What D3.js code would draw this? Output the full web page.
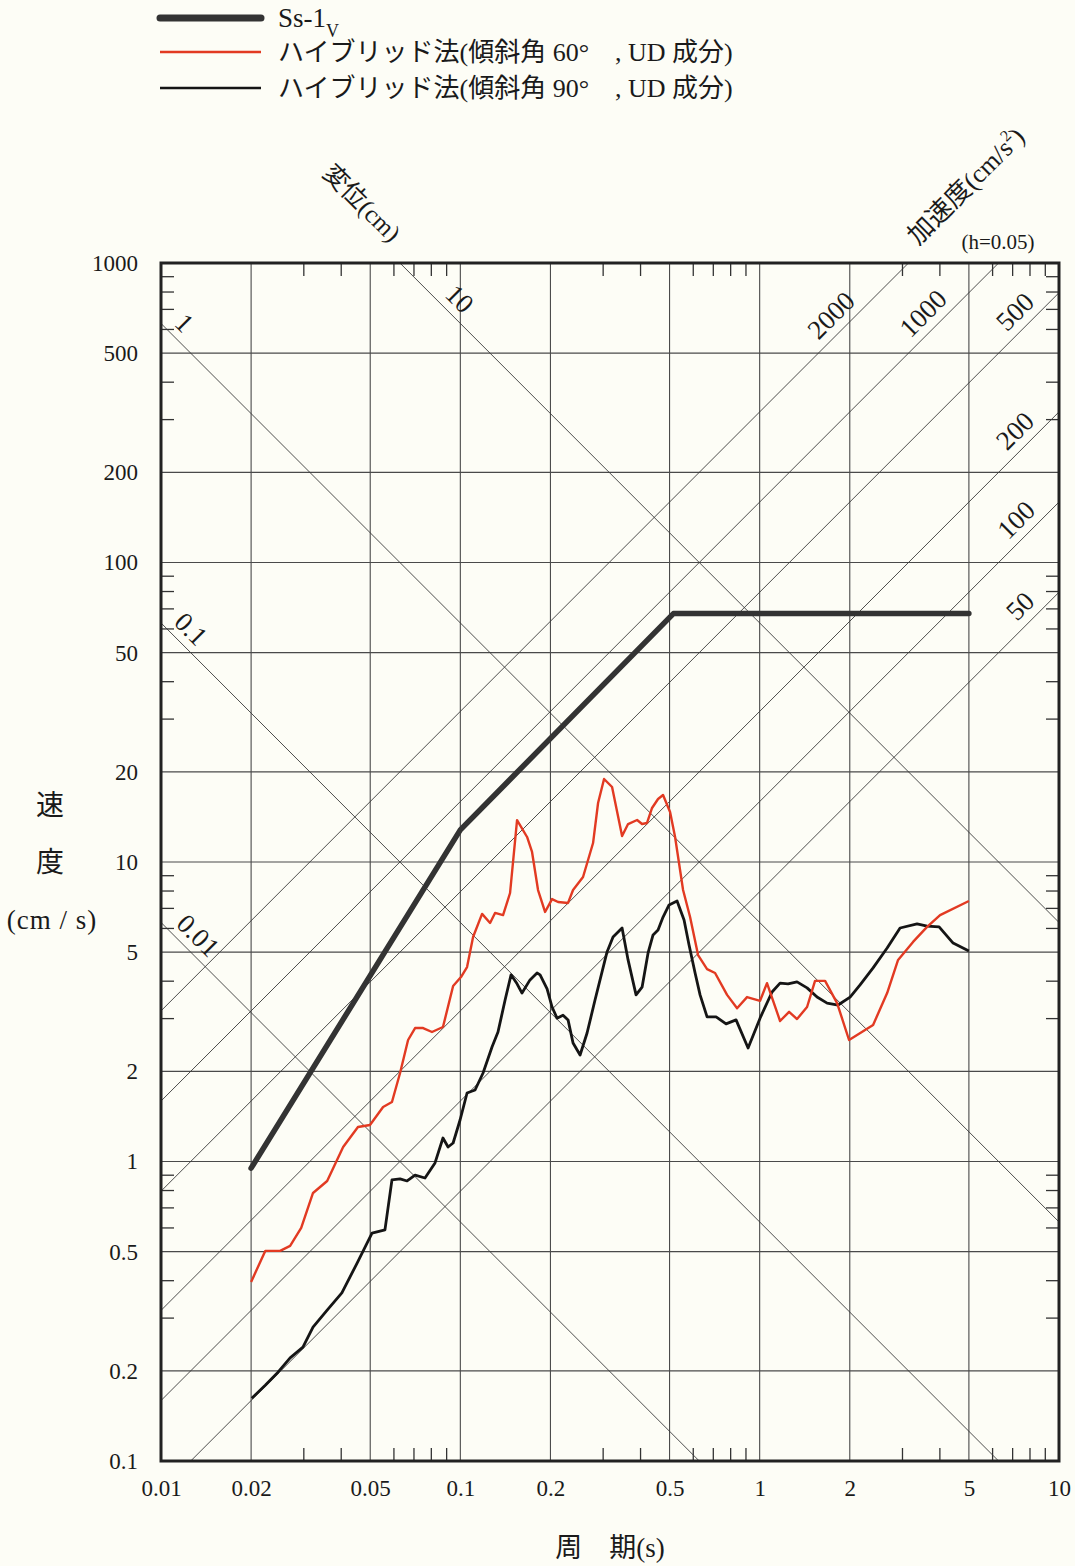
<!DOCTYPE html>
<html>
<head>
<meta charset="utf-8">
<script src="https://cdn.jsdelivr.net/npm/d3@7"></script>
<style>
  html, body { margin: 0; padding: 0; background: #fdfdf6; }
  svg { display: block; }
  text { font-family: "Liberation Serif", "Noto Sans CJK JP", serif; fill: #1a1a1a; }
  .pre { white-space: pre; }
</style>
</head>
<body>
<svg id="chart" width="1075" height="1566"></svg>
<script>
// ---------------- data ----------------
const xTickValues = [0.01, 0.02, 0.05, 0.1, 0.2, 0.5, 1, 2, 5, 10];
const xTickLabels = ["0.01", "0.02", "0.05", "0.1", "0.2", "0.5", "1", "2", "5", "10"];
const yTickValues = [0.1, 0.2, 0.5, 1, 2, 5, 10, 20, 50, 100, 200, 500, 1000];
const yTickLabels = ["0.1", "0.2", "0.5", "1", "2", "5", "10", "20", "50", "100", "200", "500", "1000"];
const xGridValues = [0.02, 0.05, 0.1, 0.2, 0.5, 1, 2, 5];
const yGridValues = [0.2, 0.5, 1, 2, 5, 10, 20, 50, 100, 200, 500];
const minorMultipliers = [3, 4, 6, 7, 8, 9];

const dispLines = [0.01, 0.1, 1, 10];          // displacement (cm)
const dispLabels = ["0.01", "0.1", "1", "10"];
const accLines = [50, 100, 200, 500, 1000, 2000]; // acceleration (cm/s^2)
const accLabels = ["50", "100", "200", "500", "1000", "2000"];

// Ss-1V design spectrum
const ssPeriods = [0.02, 0.1, 0.515, 5];
const ssVelocity = [0.95, 12.8, 67.5, 67.5];

// Hybrid method, dip 60deg, UD
const redPeriods = [0.02, 0.0223, 0.025, 0.027, 0.0294, 0.0322, 0.0359, 0.0406, 0.0455, 0.0499,
  0.0552, 0.0591, 0.0629, 0.0669, 0.0706, 0.0751, 0.0804, 0.0875, 0.0946, 0.1005,
  0.1053, 0.1103, 0.1182, 0.1257, 0.1306, 0.1389, 0.1466, 0.1547, 0.1671, 0.1736,
  0.1818, 0.1919, 0.2025, 0.2121, 0.229, 0.238, 0.257, 0.2776, 0.2885, 0.3021,
  0.3213, 0.347, 0.3634, 0.3895, 0.4047, 0.4205, 0.437, 0.4576, 0.4756, 0.502,
  0.5217, 0.5548, 0.5855, 0.6226, 0.6673, 0.7096, 0.7783, 0.8405, 0.9075, 1.003,
  1.058, 1.17, 1.254, 1.333, 1.44, 1.531, 1.654, 1.814, 1.989, 2.393,
  2.666, 2.9, 3.254, 3.625, 4.006, 5.0];
const redVelocity = [0.396, 0.503, 0.503, 0.523, 0.6, 0.785, 0.861, 1.118, 1.304, 1.324,
  1.521, 1.58, 1.975, 2.545, 2.79, 2.79, 2.706, 2.812, 3.855, 4.13,
  4.46, 5.62, 6.71, 6.26, 6.76, 6.65, 7.88, 13.8, 12.12, 10.8,
  8.06, 6.81, 7.52, 7.35, 7.3, 8.06, 8.91, 11.57, 15.74, 18.93,
  17.8, 12.21, 13.39, 13.81, 13.39, 13.5, 15.15, 16.23, 16.74, 14.69,
  12.12, 8.06, 6.55, 4.89, 4.39, 4.26, 3.6, 3.25, 3.54, 3.44,
  3.94, 2.945, 3.16, 2.99, 3.28, 4.01, 4.01, 3.38, 2.545, 2.857,
  3.65, 4.71, 5.41, 6.07, 6.65, 7.41];

// Hybrid method, dip 90deg, UD
const blackPeriods = [0.0201, 0.0223, 0.0246, 0.027, 0.0298, 0.0322, 0.0359, 0.0402, 0.0452, 0.0507,
  0.056, 0.0591, 0.0629, 0.0664, 0.0706, 0.0762, 0.0823, 0.0875, 0.091, 0.0946,
  0.0998, 0.1053, 0.112, 0.1191, 0.1276, 0.1336, 0.1411, 0.1477, 0.1547, 0.1607,
  0.1709, 0.1804, 0.1847, 0.1949, 0.2025, 0.2104, 0.2203, 0.229, 0.238, 0.2512,
  0.2651, 0.2818, 0.3091, 0.3237, 0.347, 0.3634, 0.3864, 0.4047, 0.4238, 0.4404,
  0.4576, 0.4756, 0.4981, 0.5297, 0.559, 0.5809, 0.6085, 0.6323, 0.6673, 0.7152,
  0.7722, 0.834, 0.9148, 1.003, 1.1, 1.17, 1.244, 1.333, 1.44, 1.555,
  1.68, 1.828, 2.005, 2.165, 2.393, 2.666, 2.945, 3.356, 3.625, 3.976,
  4.428, 5.0];
const blackVelocity = [0.162, 0.179, 0.198, 0.221, 0.24, 0.28, 0.319, 0.364, 0.458, 0.577,
  0.591, 0.868, 0.875, 0.861, 0.901, 0.881, 0.989, 1.198, 1.118, 1.153,
  1.376, 1.693, 1.733, 1.975, 2.412, 2.706, 3.46, 4.2, 3.92, 3.65,
  4.04, 4.26, 4.2, 3.77, 3.28, 3.01, 3.08, 2.97, 2.487, 2.268,
  2.685, 3.46, 5.01, 5.62, 6.02, 4.71, 3.6, 3.82, 4.97, 5.71,
  5.93, 6.55, 7.19, 7.41, 6.4, 5.28, 4.26, 3.6, 3.04, 3.04,
  2.88, 2.97, 2.393, 3.01, 3.68, 3.94, 3.92, 3.98, 3.8, 3.54,
  3.38, 3.33, 3.54, 3.89, 4.43, 5.16, 6.02, 6.21, 6.11, 6.07,
  5.36, 5.04];

const legendLabels = ["Ss-1", "ハイブリッド法(傾斜角 60°\u3000, UD 成分)", "ハイブリッド法(傾斜角 90°\u3000, UD 成分)"];

// ---------------- drawing ----------------
(function () {
const svg = d3.select("#chart");
const W = 1075, H = 1566;
svg.append("rect").attr("width", W).attr("height", H).attr("fill", "#fdfdf6");

const pL = 161, pR = 1059, pT = 263, pB = 1461;
const x = d3.scaleLog().domain([0.01, 10]).range([pL, pR]);
const y = d3.scaleLog().domain([0.1, 1000]).range([pB, pT]);

svg.append("defs").append("clipPath").attr("id", "plotclip")
  .append("rect").attr("x", pL).attr("y", pT).attr("width", pR - pL).attr("height", pB - pT);

const gridColor = "#4a4a4a";

// grid
const grid = svg.append("g");
grid.selectAll(".vg").data(xGridValues).enter().append("line")
  .attr("x1", d => x(d)).attr("x2", d => x(d)).attr("y1", pT).attr("y2", pB)
  .attr("stroke", gridColor).attr("stroke-width", 1.1);
grid.selectAll(".hg").data(yGridValues).enter().append("line")
  .attr("y1", d => y(d)).attr("y2", d => y(d)).attr("x1", pL).attr("x2", pR)
  .attr("stroke", gridColor).attr("stroke-width", 1.1);

// minor ticks
const xMinor = [];
[0.01, 0.1, 1].forEach(dec => minorMultipliers.forEach(m => xMinor.push(dec * m)));
const yMinor = [];
[0.1, 1, 10, 100].forEach(dec => minorMultipliers.forEach(m => yMinor.push(dec * m)));
const tl = 13;
const ticks = svg.append("g").attr("stroke", "#333").attr("stroke-width", 1.3);
xMinor.forEach(v => {
  ticks.append("line").attr("x1", x(v)).attr("x2", x(v)).attr("y1", pB).attr("y2", pB - tl);
  ticks.append("line").attr("x1", x(v)).attr("x2", x(v)).attr("y1", pT).attr("y2", pT + tl);
});
yMinor.forEach(v => {
  ticks.append("line").attr("y1", y(v)).attr("y2", y(v)).attr("x1", pL).attr("x2", pL + tl);
  ticks.append("line").attr("y1", y(v)).attr("y2", y(v)).attr("x1", pR).attr("x2", pR - tl);
});

// tripartite diagonals
const diag = svg.append("g").attr("clip-path", "url(#plotclip)");
const Tfull = [0.005, 20];
dispLines.forEach(D => {
  diag.append("line")
    .attr("x1", x(Tfull[0])).attr("y1", y(2 * Math.PI * D / Tfull[0]))
    .attr("x2", x(Tfull[1])).attr("y2", y(2 * Math.PI * D / Tfull[1]))
    .attr("stroke", "#3a3a3a").attr("stroke-width", 0.9);
});
accLines.forEach(A => {
  diag.append("line")
    .attr("x1", x(Tfull[0])).attr("y1", y(A * Tfull[0] / (2 * Math.PI)))
    .attr("x2", x(Tfull[1])).attr("y2", y(A * Tfull[1] / (2 * Math.PI)))
    .attr("stroke", "#3a3a3a").attr("stroke-width", 0.9);
});

// diagonal labels
const dispLabelT = [0.0131, 0.0124, 0.0118, 0.098];
dispLines.forEach((D, i) => {
  const px = x(dispLabelT[i]);
  const py = y(2 * Math.PI * D / dispLabelT[i]) - 20;
  svg.append("text").attr("transform", `translate(${px},${py}) rotate(45)`)
    .attr("text-anchor", "middle").attr("dominant-baseline", "middle")
    .attr("font-size", 27).text(dispLabels[i]);
});
const accLabelT = [7.53, 7.3, 7.24, 7.24, 3.57, 1.76];
accLines.forEach((A, i) => {
  const px = x(accLabelT[i]);
  const py = y(A * accLabelT[i] / (2 * Math.PI)) - 21;
  svg.append("text").attr("transform", `translate(${px},${py}) rotate(-45)`)
    .attr("text-anchor", "middle").attr("dominant-baseline", "middle")
    .attr("font-size", 27).text(accLabels[i]);
});

// frame
svg.append("rect").attr("x", pL).attr("y", pT).attr("width", pR - pL).attr("height", pB - pT)
  .attr("fill", "none").attr("stroke", "#222").attr("stroke-width", 3);

// axes labels
const xAxis = d3.axisBottom(x).tickValues(xTickValues)
  .tickFormat((d, i) => xTickLabels[i]).tickSize(0).tickPadding(19);
const gx = svg.append("g").attr("transform", `translate(0,${pB})`).call(xAxis);
gx.select(".domain").remove();
gx.selectAll("text").attr("font-size", 23).attr("font-family", "Liberation Serif").attr("fill", "#1a1a1a");

const yAxis = d3.axisLeft(y).tickValues(yTickValues)
  .tickFormat((d, i) => yTickLabels[i]).tickSize(0).tickPadding(23);
const gy = svg.append("g").attr("transform", `translate(${pL},0)`).call(yAxis);
gy.select(".domain").remove();
gy.selectAll("text").attr("font-size", 23).attr("font-family", "Liberation Serif").attr("fill", "#1a1a1a");

// series
const line = d3.line().x(d => x(d[0])).y(d => y(d[1]));
const series = svg.append("g").attr("clip-path", "url(#plotclip)");
series.append("path").datum(blackPeriods.map((t, i) => [t, blackVelocity[i]]))
  .attr("d", line).attr("fill", "none").attr("stroke", "#151515").attr("stroke-width", 2.8)
  .attr("stroke-linejoin", "round");
series.append("path").datum(redPeriods.map((t, i) => [t, redVelocity[i]]))
  .attr("d", line).attr("fill", "none").attr("stroke", "#e23a22").attr("stroke-width", 2.4)
  .attr("stroke-linejoin", "round");
series.append("path").datum(ssPeriods.map((t, i) => [t, ssVelocity[i]]))
  .attr("d", line).attr("fill", "none").attr("stroke", "#333").attr("stroke-width", 5.5)
  .attr("stroke-linejoin", "round").attr("stroke-linecap", "round");

// axis titles
svg.append("text").attr("x", 50).attr("y", 815).attr("text-anchor", "middle").attr("font-size", 28)
  .attr("font-family", "Noto Sans CJK JP").text("速");
svg.append("text").attr("x", 50).attr("y", 872).attr("text-anchor", "middle").attr("font-size", 28)
  .attr("font-family", "Noto Sans CJK JP").text("度");
svg.append("text").attr("x", 52).attr("y", 929).attr("text-anchor", "middle").attr("font-size", 27)
  .attr("letter-spacing", 1).attr("class", "pre").text("(cm / s)");
svg.append("text").attr("x", 610).attr("y", 1557).attr("text-anchor", "middle").attr("font-size", 27)
  .attr("class", "pre").text("周\u3000期(s)");

// tripartite titles
svg.append("text").attr("transform", "translate(360,205) rotate(45)")
  .attr("text-anchor", "middle").attr("dominant-baseline", "middle").attr("font-size", 25).text("変位(cm)");
const accT = svg.append("text").attr("transform", "translate(968,188) rotate(-45)")
  .attr("text-anchor", "middle").attr("dominant-baseline", "middle").attr("font-size", 26);
accT.append("tspan").text("加速度(cm/s");
accT.append("tspan").attr("baseline-shift", "super").attr("font-size", 16).text("2");
accT.append("tspan").text(")");
svg.append("text").attr("x", 998).attr("y", 249).attr("text-anchor", "middle").attr("font-size", 21)
  .text("(h=0.05)");

// legend
const legY = [18, 52, 88];
const legStroke = [["#333", 7], ["#e23a22", 2.6], ["#151515", 2.6]];
legY.forEach((ly, i) => {
  svg.append("line").attr("x1", 160).attr("x2", 261).attr("y1", ly).attr("y2", ly)
    .attr("stroke", legStroke[i][0]).attr("stroke-width", legStroke[i][1])
    .attr("stroke-linecap", i === 0 ? "round" : "butt");
});
const l0 = svg.append("text").attr("x", 278).attr("y", legY[0] + 9).attr("font-size", 27);
l0.append("tspan").text(legendLabels[0]);
l0.append("tspan").attr("baseline-shift", "sub").attr("font-size", 18).text("V");
[1, 2].forEach(i => {
  svg.append("text").attr("x", 278).attr("y", legY[i] + 9).attr("font-size", 26)
    .attr("class", "pre").text(legendLabels[i]);
});
})();
</script>
</body>
</html>
